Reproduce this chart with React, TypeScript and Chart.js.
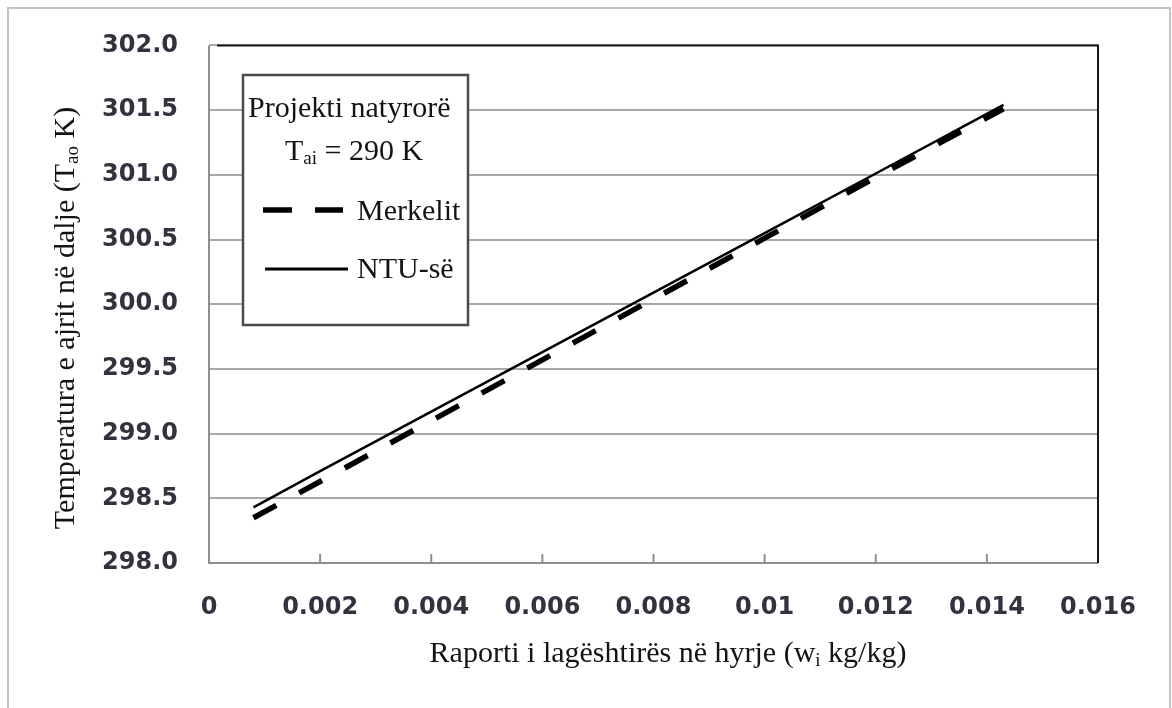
import React, { useEffect, useRef } from "react";
import { Chart, registerables } from "chart.js";

Chart.register(...registerables);

// ---- data ----
const humidity = [0.0008, 0.002, 0.004, 0.006, 0.008, 0.01, 0.012, 0.0143];
const ntuTemp = [298.43, 298.71, 299.17, 299.63, 300.09, 300.55, 301.01, 301.54];
const merkelTemp = [298.35, 298.63, 299.1, 299.57, 300.04, 300.51, 300.98, 301.51];

const seriesNames = ["Merkelit", "NTU-së"];
const legendTitle = "Projekti natyrorë";
const xTitleParts = [
  { t: "Raporti i lagështirës në hyrje (w" },
  { t: "i", sub: true },
  { t: " kg/kg)" },
];
const yTitleParts = [
  { t: "Temperatura e ajrit në dalje (T" },
  { t: "ao", sub: true },
  { t: " K)" },
];
const legendTaiParts = [{ t: "T" }, { t: "ai", sub: true }, { t: " = 290 K" }];

const SERIF = "'Liberation Serif', 'Times New Roman', serif";
const TICK_FONT = "'DejaVu Sans', sans-serif";

type Part = { t: string; sub?: boolean };

function drawRich(
  ctx: CanvasRenderingContext2D,
  parts: Part[],
  x: number,
  y: number,
  size: number,
  align: "left" | "center"
) {
  const subSize = Math.round(size * 0.62);
  const widths = parts.map((p) => {
    ctx.font = `${p.sub ? subSize : size}px ${SERIF}`;
    return ctx.measureText(p.t).width;
  });
  const total = widths.reduce((a, b) => a + b, 0);
  let cx = align === "center" ? x - total / 2 : x;
  ctx.textAlign = "left";
  ctx.textBaseline = "alphabetic";
  parts.forEach((p, i) => {
    ctx.font = `${p.sub ? subSize : size}px ${SERIF}`;
    ctx.fillText(p.t, cx, p.sub ? y + size * 0.14 : y);
    cx += widths[i];
  });
}

const decorPlugin = {
  id: "decor",
  afterDraw(chart: any) {
    const { ctx, chartArea: a, scales } = chart;
    const line = (x1: number, y1: number, x2: number, y2: number) => {
      ctx.beginPath();
      ctx.moveTo(x1, y1);
      ctx.lineTo(x2, y2);
      ctx.stroke();
    };
    ctx.save();
    // plot borders
    ctx.lineWidth = 2;
    ctx.strokeStyle = "#8e8e8e";
    line(a.left, a.top, a.left, a.bottom + 1);
    line(a.left, a.bottom, a.right, a.bottom);
    // inward tick marks on x axis
    scales.x.ticks.forEach((t: any) => {
      const px = scales.x.getPixelForValue(t.value);
      if (px > a.left + 2 && px < a.right - 2) line(px, a.bottom, px, a.bottom - 9);
    });
    ctx.strokeStyle = "#151515";
    line(a.left + 8, a.top, a.right + 1, a.top);
    line(a.right, a.top, a.right, a.bottom);

    // legend box
    const bx = 243, by = 75, bw = 225, bh = 250;
    ctx.fillStyle = "#ffffff";
    ctx.fillRect(bx, by, bw, bh);
    ctx.lineWidth = 2.5;
    ctx.strokeStyle = "#4a4a4a";
    ctx.strokeRect(bx, by, bw, bh);
    ctx.fillStyle = "#141414";
    ctx.font = `30px ${SERIF}`;
    ctx.textAlign = "left";
    ctx.textBaseline = "alphabetic";
    ctx.fillText(legendTitle, 248, 117);
    drawRich(ctx, legendTaiParts, 285, 160, 30, "left");
    const ds = chart.data.datasets;
    // dashed sample
    ctx.save();
    ctx.strokeStyle = ds[0].borderColor;
    ctx.lineWidth = ds[0].borderWidth;
    ctx.setLineDash([29, 23]);
    line(263, 210, 343, 210);
    ctx.restore();
    ctx.font = `30px ${SERIF}`;
    ctx.fillText(ds[0].label, 357, 220);
    // solid sample
    ctx.strokeStyle = ds[1].borderColor;
    ctx.lineWidth = 3;
    line(265, 269, 348, 269);
    ctx.fillText(ds[1].label, 357, 278);

    // axis titles
    ctx.fillStyle = "#141414";
    drawRich(ctx, xTitleParts, 668, 662, 30, "center");
    ctx.save();
    ctx.translate(74, 318);
    ctx.rotate(-Math.PI / 2);
    drawRich(ctx, yTitleParts, 0, 0, 30, "center");
    ctx.restore();

    // outer frame
    ctx.lineWidth = 2;
    ctx.strokeStyle = "#c4c4c4";
    ctx.strokeRect(8, 8, 1162, 720);
    ctx.restore();
  },
};

export default function App() {
  const ref = useRef<HTMLCanvasElement>(null);
  useEffect(() => {
    if (!ref.current) return;
    const chart = new Chart(ref.current, {
      type: "line",
      data: {
        datasets: [
          {
            label: seriesNames[0],
            data: humidity.map((x, i) => ({ x, y: merkelTemp[i] })),
            borderColor: "#000000",
            borderWidth: 5.5,
            borderDash: [26, 26],
            pointRadius: 0,
            fill: false,
            tension: 0,
          },
          {
            label: seriesNames[1],
            data: humidity.map((x, i) => ({ x, y: ntuTemp[i] })),
            borderColor: "#000000",
            borderWidth: 2.5,
            pointRadius: 0,
            fill: false,
            tension: 0,
          },
        ],
      },
      options: {
        animation: false,
        responsive: false,
        maintainAspectRatio: false,
        layout: { padding: { top: 42, right: 74, left: 0, bottom: 0 } },
        plugins: { legend: { display: false }, tooltip: { enabled: false } },
        scales: {
          x: {
            type: "linear",
            min: 0,
            max: 0.016,
            afterFit: (s: any) => {
              s.height = 145;
            },
            ticks: {
              stepSize: 0.002,
              padding: 22,
              color: "#333340",
              font: { family: TICK_FONT, size: 24, weight: "bold" },
              maxRotation: 0,
              autoSkip: false,
              callback: (v: any) => (Math.abs(v) < 1e-9 ? "0" : String(parseFloat(Number(v).toFixed(3)))),
            },
            grid: { display: false },
            border: { display: false },
          },
          y: {
            min: 298,
            max: 302,
            afterFit: (s: any) => {
              s.width = 209;
            },
            ticks: {
              stepSize: 0.5,
              padding: 31,
              color: "#333340",
              font: { family: TICK_FONT, size: 24, weight: "bold" },
              callback: (v: any) => Number(v).toFixed(1),
            },
            grid: { color: "#a8a8a8", lineWidth: 2, drawTicks: false },
            border: { display: false },
          },
        },
      },
      plugins: [decorPlugin],
    });
    return () => chart.destroy();
  }, []);
  return (
    <div style={{ position: "absolute", left: 0, top: 0, width: 1172, height: 708, background: "#fff" }}>
      <canvas ref={ref} width={1172} height={708} style={{ display: "block" }} />
    </div>
  );
}
